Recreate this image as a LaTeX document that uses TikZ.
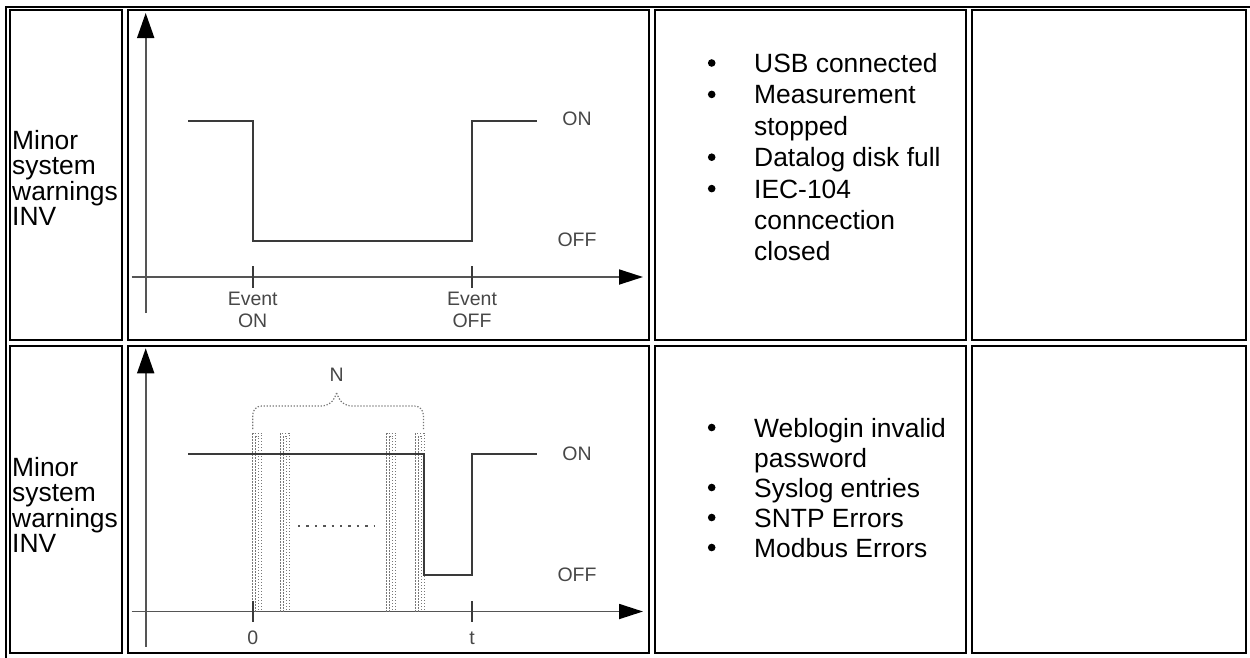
\documentclass[tikz,border=0pt]{standalone}
\usepackage{fontspec}
\setmainfont{Liberation Sans}
\usetikzlibrary{arrows.meta}
\definecolor{axisgray}{HTML}{555555}
\definecolor{siggray}{HTML}{3A3A3A}
\definecolor{labgray}{HTML}{474747}
\newcommand\mypulse[2]{%
  \draw[pulsedot] (#1,611.5) -- (#1,433.3) -- (#2,433.3) -- (#2,611.5);
  \draw[pulsedot] ({#1+3},611.5) -- ({#1+3},436.3) -- ({#2-3},436.3) -- ({#2-3},611.5);
}
\begin{document}
\begin{tikzpicture}[x=1pt,y=-1pt,
  cellbox/.style={draw=black,line width=2pt},
  axisline/.style={draw=axisgray,line width=1.8pt,-{Triangle[length=25pt,width=17pt,color=black,fill=black]}},
  xaxisline/.style={draw=axisgray,line width=1.8pt,-{Triangle[length=24pt,width=15pt,color=black,fill=black]}},
  signal/.style={draw=siggray,line width=2pt},
  tickmark/.style={draw=siggray,line width=1.6pt},
  lab/.style={inner sep=0pt,text=labgray,font=\fontsize{19.5}{22}\selectfont,align=center},
  txt/.style={anchor=base west,inner sep=0pt,font=\fontsize{26.4}{30}\selectfont},
  pulsedot/.style={draw=axisgray!80,line width=1pt,dash pattern=on 1.3pt off 1.7pt},
  bulletdot/.style={fill=black}]
\useasboundingbox (0,0) rectangle (1250,657);
\begin{scope}
\clip (0,0) rectangle (1250,657);
\draw[line width=2pt] (6,700) -- (6,6.5) -- (1300,6.5);
\end{scope}
% cells
\draw[cellbox] (10,10) rectangle (122,340);
\draw[cellbox] (128,10) rectangle (649,340);
\draw[cellbox] (654.5,10) rectangle (966,340);
\draw[cellbox] (972,10) rectangle (1246,340);
\draw[cellbox] (10,346) rectangle (122,653);
\draw[cellbox] (128,346) rectangle (649,653);
\draw[cellbox] (654.5,346) rectangle (966,653);
\draw[cellbox] (972,346) rectangle (1246,653);
% left column text
\node[txt] (a1) at (12,149.3) {Minor};
\node[txt] (a2) at (12,174.8) {system};
\node[txt] (a3) at (12,200.3) {warnings};
\node[txt] (a4) at (12,225.8) {INV};
\node[txt] (b1) at (12,476.3) {Minor};
\node[txt] (b2) at (12,501.8) {system};
\node[txt] (b3) at (12,527.3) {warnings};
\node[txt] (b4) at (12,552.8) {INV};
% chart 1
\draw[axisline] (145.7,313) -- (145.7,13);
\draw[xaxisline] (131.7,277) -- (643,277);
\draw[signal] (188,120.5) -- (252.7,120.5) -- (252.7,241) -- (472,241) -- (472,120.5) -- (537,120.5);
\draw[tickmark] (252.7,266) -- (252.7,288);
\draw[tickmark] (472,266) -- (472,288);
\node[lab] (on1) at (577,119) {ON};
\node[lab] (off1) at (577,240) {OFF};
\node[lab] (ev1) at (252.7,310) {Event\\ON};
\node[lab] (ev2) at (472,310) {Event\\OFF};
% chart 2
\draw[axisline] (145.7,646.7) -- (145.7,348.3);
\draw[xaxisline] (131.7,611.5) -- (643,611.5);
\mypulse{252.7}{261.7}
\mypulse{280.3}{289.3}
\mypulse{386.7}{395.7}
\mypulse{415.3}{424.3}
\draw[signal] (188,454.3) -- (424.3,454.3) -- (424.3,575) -- (472,575) -- (472,454.3) -- (537,454.3);
\draw[tickmark] (252.7,601) -- (252.7,622);
\draw[tickmark] (472,601) -- (472,622);
\draw[draw=axisgray,line width=2.4pt,dash pattern=on 2.4pt off 6pt] (298,526) -- (375,526);
\draw[pulsedot,line width=1.2pt,rounded corners=9pt] (252.7,429) -- (252.7,406) -- (331,406) -- (336.6,393);
\draw[pulsedot,line width=1.2pt,rounded corners=9pt] (336.6,393) -- (342.2,406) -- (423.4,406) -- (423.4,429);
\node[lab] (nlab) at (336.6,375) {N};
\node[lab] (zero) at (252.7,638) {0};
\node[lab] (tlab) at (472,638) {t};
\node[lab] (on2) at (577,454) {ON};
\node[lab] (off2) at (577,575) {OFF};
% bullet lists row 1
\fill[bulletdot] (711.7,63) circle (3.8);
\node[txt] (c1) at (754,72.5) {USB connected};
\fill[bulletdot] (711.7,94.4) circle (3.8);
\node[txt] (c2) at (754,103.9) {Measurement};
\node[txt] (c3) at (754,135.3) {stopped};
\fill[bulletdot] (711.7,157.2) circle (3.8);
\node[txt] (c4) at (754,166.7) {Datalog disk full};
\fill[bulletdot] (711.7,188.6) circle (3.8);
\node[txt] (c5) at (754,198.1) {IEC-104};
\node[txt] (c6) at (754,229.5) {conncection};
\node[txt] (c7) at (754,260.9) {closed};
% bullet lists row 2
\fill[bulletdot] (711.7,427.5) circle (3.8);
\node[txt] (d1) at (754,437) {Weblogin invalid};
\node[txt] (d2) at (754,467) {password};
\fill[bulletdot] (711.7,487.5) circle (3.8);
\node[txt] (d3) at (754,497) {Syslog entries};
\fill[bulletdot] (711.7,517.5) circle (3.8);
\node[txt] (d4) at (754,527) {SNTP Errors};
\fill[bulletdot] (711.7,547.5) circle (3.8);
\node[txt] (d5) at (754,557) {Modbus Errors};
\end{tikzpicture}
\end{document}
